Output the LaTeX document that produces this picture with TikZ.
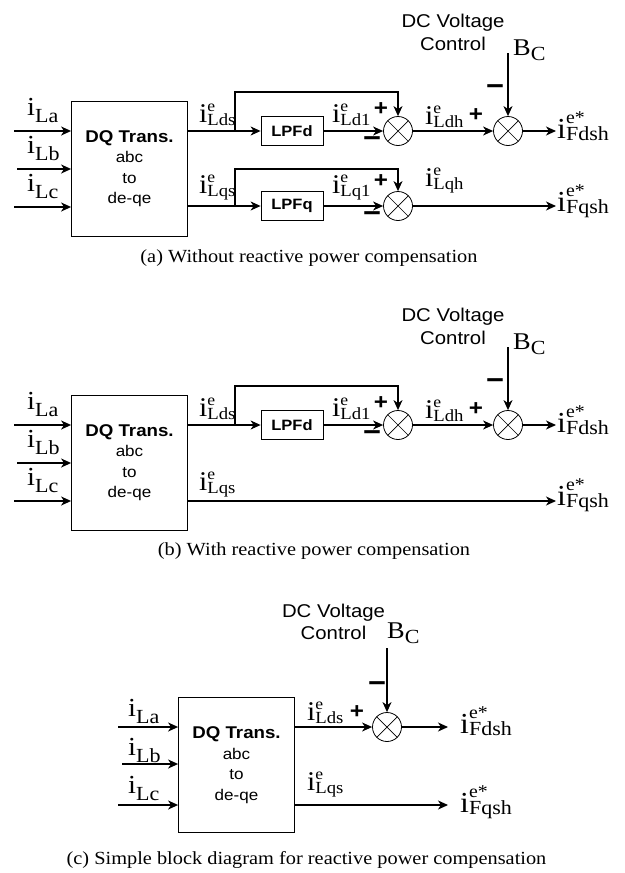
\documentclass[tikz,border=0pt]{standalone}
\usepackage{fontspec}
\setmainfont{Liberation Serif}[FakeStretch=1.1]
\setsansfont{Liberation Sans}[FakeStretch=1.1]
\usetikzlibrary{arrows.meta, positioning, calc}

\newcommand{\fs}[1]{\fontsize{#1}{#1}\selectfont}
% current labels: input, intermediate (sup e), output (sup e*)
\newcommand{\inlbl}[1]{{\fs{26}i}\raisebox{-7pt}{\fs{20}#1}}
\newcommand{\midlbl}[1]{{\fs{27}i}\rlap{\raisebox{11pt}{\fs{16}e}}\raisebox{-3pt}{\fs{17}#1}}
\newcommand{\outlbl}[1]{{\fs{29}i}\rlap{\raisebox{15pt}{\fs{18}e*}}\raisebox{-2pt}{\fs{20}#1}}
\newcommand{\bclbl}{{\fs{24}B}\raisebox{-5pt}{\fs{20}C}}

\tikzset{
  dqbox/.style={rectangle, draw, line width=0.8pt, minimum width=116pt,
    minimum height=135pt, align=center,
    font=\sffamily\fontsize{15.5}{20.5}\selectfont},
  lpfbox/.style={rectangle, draw, line width=0.8pt, minimum width=62pt,
    minimum height=29pt, font=\sffamily\bfseries\fs{15}},
  sumnode/.style={circle, draw, line width=0.8pt, minimum size=29pt,
    inner sep=0pt,
    path picture={\draw[line width=0.7pt]
      (path picture bounding box.north west) -- (path picture bounding box.south east)
      (path picture bounding box.north east) -- (path picture bounding box.south west);}},
  sig/.style={-{Stealth[length=10pt,width=9pt,inset=3pt]}, line width=1.1pt},
  inp/.style={sig, line width=1.6pt},
  lbl/.style={anchor=base west, inner sep=0pt},
  sgn/.style={inner sep=0pt, font=\sffamily\bfseries\fs{22}},
  msgn/.style={inner sep=0pt, font=\sffamily\bfseries\fs{28}},
  dctext/.style={align=center, inner sep=0pt,
    font=\sffamily\fontsize{18.5}{22.5}\selectfont},
  captext/.style={anchor=base, inner sep=0pt, font=\fs{18.5}}
}

\begin{document}
\begin{tikzpicture}[x=1pt, y=-1pt]
  \useasboundingbox (0,0) rectangle (624,873);

  % (a) without reactive power compensation
  \node[dqbox] (dqA) at (129.5,168.5) {{\bfseries\fontsize{17}{20.5}\selectfont DQ Trans.}\\abc\\to\\de-qe};
  \node[lpfbox] (lpfdA) at (292,131) {LPFd};
  \node[lpfbox] (lpfqA) at (292,206) {LPFq};
  \node[sumnode] (sdA) at (398,131) {};
  \node[sumnode] (sbA) at (508,131) {};
  \node[sumnode] (sqA) at (398,206) {};
  \coordinate (ia1) at (14,131);
  \coordinate (ia2) at (17,169);
  \coordinate (ia3) at (14,207);
  \coordinate (brdA) at (235,131);
  \coordinate (brqA) at (235,206);
  \coordinate (bcA) at (508,53);
  \coordinate (odA) at (556,131);
  \coordinate (oqA) at (556,206);

  \draw[inp] (ia1) -- (ia1 -| dqA.west);
  \draw[inp] (ia2) -- (ia2 -| dqA.west);
  \draw[inp] (ia3) -- (ia3 -| dqA.west);
  \draw[sig] (dqA.east |- brdA) -- (lpfdA.west);
  \draw[sig] (brdA) -- ++(0,-39) -| (sdA.north);
  \draw[sig] (lpfdA.east) -- (sdA.west);
  \draw[sig] (sdA.east) -- (sbA.west);
  \draw[sig] (bcA) -- (sbA.north);
  \draw[sig] (sbA.east) -- (odA);
  \draw[sig] (dqA.east |- brqA) -- (lpfqA.west);
  \draw[sig] (brqA) -- ++(0,-37) -| (sqA.north);
  \draw[sig] (lpfqA.east) -- (sqA.west);
  \draw[sig] (sqA.east) -- (oqA);

  \node[lbl] (laA) at (27,115) {\inlbl{La}};
  \node[lbl] (lbA) at (27,153) {\inlbl{Lb}};
  \node[lbl] (lcA) at (27,191) {\inlbl{Lc}};
  \node[lbl] (ldsA) at (199,122) {\midlbl{Lds}};
  \node[lbl] (lqsA) at (199,193) {\midlbl{Lqs}};
  \node[lbl] (ld1A) at (332,122) {\midlbl{Ld1}};
  \node[lbl] (lq1A) at (332,193) {\midlbl{Lq1}};
  \node[lbl] (ldhA) at (425,124) {\midlbl{Ldh}};
  \node[lbl] (lqhA) at (425,186) {\midlbl{Lqh}};
  \node[lbl] (fdA) at (557,138) {\outlbl{Fdsh}};
  \node[lbl] (fqA) at (557,211) {\outlbl{Fqsh}};
  \node[sgn] (p1A) at (381,109) {+};
  \node[msgn] (m1A) at (372,142) {−};
  \node[sgn] (p2A) at (476,115) {+};
  \node[msgn] (m2A) at (495,90) {−};
  \node[sgn] (p3A) at (381,181) {+};
  \node[msgn] (m3A) at (372,217) {−};
  \node[dctext] (dcA) at (453,32.5) {DC Voltage\\Control};
  \node[lbl] (bA) at (513,55) {\bclbl};
  \node[captext] (capA) at (309,262) {(a) Without reactive power compensation};

  % (b) with reactive power compensation
  \node[dqbox] (dqB) at (129.5,462.5) {{\bfseries\fontsize{17}{20.5}\selectfont DQ Trans.}\\abc\\to\\de-qe};
  \node[lpfbox] (lpfdB) at (292,425) {LPFd};
  \node[sumnode] (sdB) at (398,425) {};
  \node[sumnode] (sbB) at (508,425) {};
  \coordinate (ib1) at (14,425);
  \coordinate (ib2) at (17,463);
  \coordinate (ib3) at (14,501);
  \coordinate (brdB) at (235,425);
  \coordinate (bcB) at (508,347);
  \coordinate (odB) at (556,425);
  \coordinate (oqB) at (556,501);

  \draw[inp] (ib1) -- (ib1 -| dqB.west);
  \draw[inp] (ib2) -- (ib2 -| dqB.west);
  \draw[inp] (ib3) -- (ib3 -| dqB.west);
  \draw[sig] (dqB.east |- brdB) -- (lpfdB.west);
  \draw[sig] (brdB) -- ++(0,-39) -| (sdB.north);
  \draw[sig] (lpfdB.east) -- (sdB.west);
  \draw[sig] (sdB.east) -- (sbB.west);
  \draw[sig] (bcB) -- (sbB.north);
  \draw[sig] (sbB.east) -- (odB);
  \draw[sig] (dqB.east |- oqB) -- (oqB);

  \node[lbl] (laB) at (27,409) {\inlbl{La}};
  \node[lbl] (lbB) at (27,447) {\inlbl{Lb}};
  \node[lbl] (lcB) at (27,485) {\inlbl{Lc}};
  \node[lbl] (ldsB) at (199,416) {\midlbl{Lds}};
  \node[lbl] (lqsB) at (199,490) {\midlbl{Lqs}};
  \node[lbl] (ld1B) at (332,416) {\midlbl{Ld1}};
  \node[lbl] (ldhB) at (425,418) {\midlbl{Ldh}};
  \node[lbl] (fdB) at (557,432) {\outlbl{Fdsh}};
  \node[lbl] (fqB) at (557,505) {\outlbl{Fqsh}};
  \node[sgn] (p1B) at (381,403) {+};
  \node[msgn] (m1B) at (372,436) {−};
  \node[sgn] (p2B) at (476,409) {+};
  \node[msgn] (m2B) at (495,384) {−};
  \node[dctext] (dcB) at (453,326.5) {DC Voltage\\Control};
  \node[lbl] (bB) at (513,349) {\bclbl};
  \node[captext] (capB) at (314,555) {(b) With reactive power compensation};

  % (c) simple block diagram
  \node[dqbox] (dqC) at (236.5,765) {{\bfseries\fontsize{17}{20.5}\selectfont DQ Trans.}\\abc\\to\\de-qe};
  \node[sumnode] (sdC) at (387,727) {};
  \coordinate (ic1) at (118,727);
  \coordinate (ic2) at (122,764);
  \coordinate (ic3) at (118,805);
  \coordinate (bcC) at (387,648);
  \coordinate (odC) at (448,727);
  \coordinate (oqC) at (448,805);

  \draw[inp] (ic1) -- (ic1 -| dqC.west);
  \draw[inp] (ic2) -- (ic2 -| dqC.west);
  \draw[inp] (ic3) -- (ic3 -| dqC.west);
  \draw[sig] (dqC.east |- sdC) -- (sdC.west);
  \draw[sig] (bcC) -- (sdC.north);
  \draw[sig] (sdC.east) -- (odC);
  \draw[sig] (dqC.east |- oqC) -- (oqC);

  \node[lbl] (laC) at (128,716) {\inlbl{La}};
  \node[lbl] (lbC) at (128,755) {\inlbl{Lb}};
  \node[lbl] (lcC) at (128,793) {\inlbl{Lc}};
  \node[lbl] (ldsC) at (307,720) {\midlbl{Lds}};
  \node[lbl] (lqsC) at (307,790) {\midlbl{Lqs}};
  \node[lbl] (fdC) at (460,733) {\outlbl{Fdsh}};
  \node[lbl] (fqC) at (460,812) {\outlbl{Fqsh}};
  \node[sgn] (p1C) at (357,712) {+};
  \node[msgn] (m1C) at (377,687) {−};
  \node[dctext] (dcC) at (333.5,622) {DC Voltage\\Control};
  \node[lbl] (bC) at (387,638) {\bclbl};
  \node[captext] (capC) at (306.5,864) {(c) Simple block diagram for reactive power compensation};
\end{tikzpicture}
\end{document}
